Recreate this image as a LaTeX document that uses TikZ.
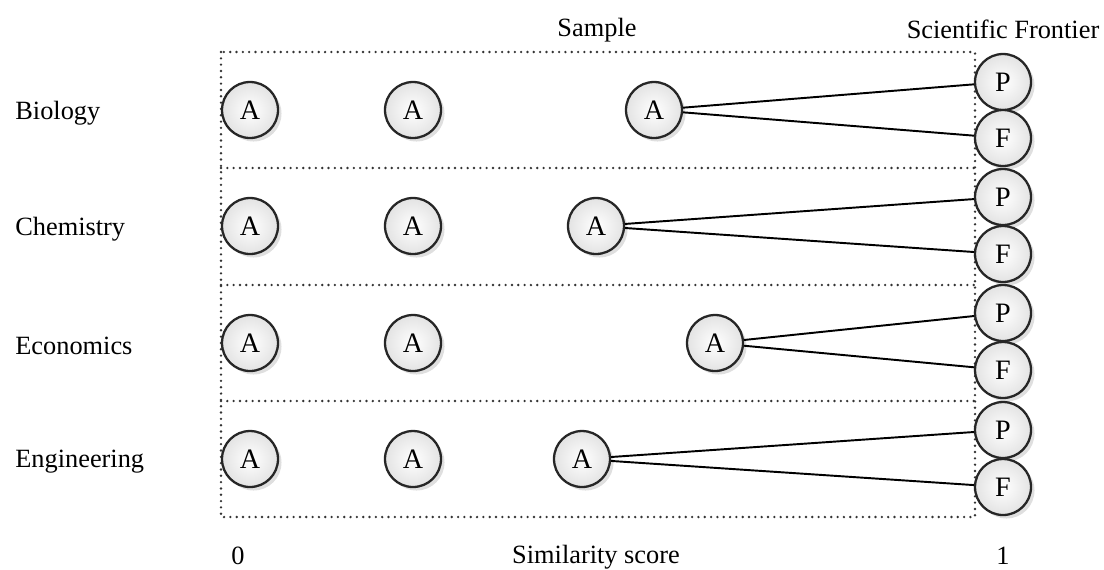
\documentclass[tikz,border=0pt]{standalone}
\usepackage{fontspec}
\setmainfont{Liberation Serif}
\usetikzlibrary{shadows}
\begin{document}
\begin{tikzpicture}[x=0.02cm,y=-0.02cm,
  ball/.style={circle, draw=black!85, line width=1.3pt, minimum size=1.12cm, inner sep=0pt,
    inner color=white, outer color=gray!22, font=\fontsize{16}{18}\selectfont,
    drop shadow={opacity=0.25, shadow xshift=2pt, shadow yshift=-2pt}},
  lbl/.style={font=\fontsize{15}{17}\selectfont, inner sep=0pt},
  rowlabel/.style={lbl, anchor=west},
  box/.style={draw=black!80, line width=1.5pt, line cap=round, dash pattern=on 0pt off 3.6pt},
  link/.style={draw=black, line width=1.1pt}]
\useasboundingbox (0,0) rectangle (1104,569);
% dotted frame
\draw[box] (221,52) rectangle (975,517);
\draw[box] (221,168) -- (975,168);
\draw[box] (221,285) -- (975,285);
\draw[box] (221,401) -- (975,401);
% labels
\node[lbl] (sample) at (597,30) {Sample};
\node[lbl] (frontier) at (1003,29) {Scientific Frontier};
\node[lbl] (zero) at (238,556) {0};
\node[lbl] (sim) at (596,557) {Similarity score};
\node[lbl] (one) at (1003,556) {1};
\node[rowlabel] (bio) at (15,113) {Biology};
\node[rowlabel] (chem) at (15,229) {Chemistry};
\node[rowlabel] (eco) at (15,346) {Economics};
\node[rowlabel] (eng) at (15,462) {Engineering};
% Biology
\node[ball] (b1) at (250,110) {A};
\node[ball] (b2) at (413,110) {A};
\node[ball] (b3) at (654,110) {A};
\node[ball] (bp) at (1003,82) {P};
\node[ball] (bf) at (1003,138) {F};
% Chemistry
\node[ball] (c1) at (250,226) {A};
\node[ball] (c2) at (413,226) {A};
\node[ball] (c3) at (596,226) {A};
\node[ball] (cp) at (1003,197) {P};
\node[ball] (cf) at (1003,254) {F};
% Economics
\node[ball] (e1) at (250,343) {A};
\node[ball] (e2) at (413,343) {A};
\node[ball] (e3) at (715,343) {A};
\node[ball] (ep) at (1003,313) {P};
\node[ball] (ef) at (1003,370) {F};
% Engineering
\node[ball] (g1) at (250,459) {A};
\node[ball] (g2) at (413,459) {A};
\node[ball] (g3) at (582,459) {A};
\node[ball] (gp) at (1003,430) {P};
\node[ball] (gf) at (1003,487) {F};
% links
\draw[link] (b3) -- (bp); \draw[link] (b3) -- (bf);
\draw[link] (c3) -- (cp); \draw[link] (c3) -- (cf);
\draw[link] (e3) -- (ep); \draw[link] (e3) -- (ef);
\draw[link] (g3) -- (gp); \draw[link] (g3) -- (gf);
\end{tikzpicture}
\end{document}
